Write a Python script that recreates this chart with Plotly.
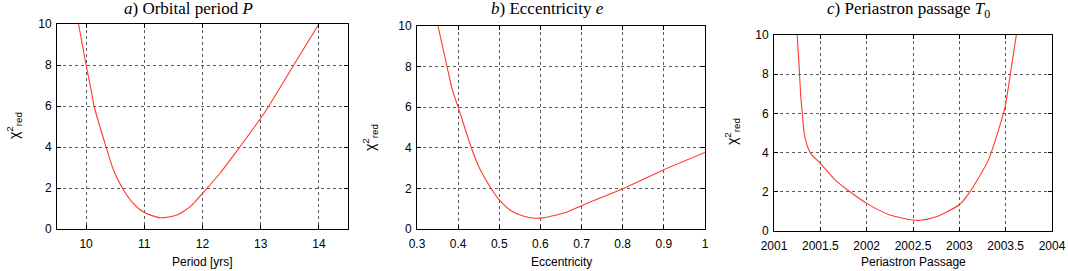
import plotly.graph_objects as go

# chi^2_red curves
period = [9.87, 10.0, 10.086, 10.137, 10.344, 10.47, 10.625, 10.81, 11.0, 11.27, 11.56, 11.79, 12.0,
          12.3, 12.64, 13.0, 13.14, 13.62, 14.0]
chi_period = [10.0, 8.0, 6.78, 6.0, 3.99, 2.88, 1.99, 1.25, 0.80, 0.55, 0.68, 1.09, 1.74,
              2.72, 4.0, 5.4, 6.0, 8.24, 10.0]

ecc = [0.351, 0.373, 0.386, 0.40, 0.432, 0.452, 0.481, 0.50, 0.526, 0.558, 0.586, 0.606, 0.639, 0.663,
       0.70, 0.80, 0.90, 1.0]
chi_ecc = [10.0, 8.0, 6.85, 6.0, 4.0, 2.99, 1.97, 1.43, 0.94, 0.64, 0.53, 0.55, 0.69, 0.82,
           1.15, 1.98, 2.92, 3.77]

t0 = [2001.25, 2001.27, 2001.287, 2001.305, 2001.326, 2001.37, 2001.405, 2001.5, 2001.65, 2001.82, 2002.0,
      2002.25, 2002.5, 2002.58, 2002.75, 2003.0, 2003.11, 2003.31, 2003.49, 2003.56, 2003.615]
chi_t0 = [10.0, 8.5, 7.0, 6.0, 5.0, 4.2, 3.9, 3.45, 2.65, 2.0, 1.41,
          0.82, 0.56, 0.55, 0.73, 1.34, 1.97, 3.59, 6.26, 8.3, 10.0]
t0_ticks = [2001, 2001.5, 2002, 2002.5, 2003, 2003.5, 2004]

W, H = 1068, 271
RED = '#ff3a2a'
GRID = '#5a5a5a'
TICKFONT = dict(family='Liberation Sans', size=12, color='black')
SERIF = dict(family='Liberation Serif', size=17, color='black')


def px_x(p):
    return p / W


def px_y(p):
    return 1 - p / H


panels = [
    # (x, y, xdom px, ydom px, x range, x ticks, title, xlabel, title pos, ylabel pos, shape)
    (period, chi_period, (57, 348), (24, 229), [9.5, 14.5], [10, 11, 12, 13, 14],
     '<i>a</i>) Orbital period <i>P</i>', 'Period [yrs]', (188, 9), (14, 126), 'spline'),
    (ecc, chi_ecc, (417, 705), (26, 229), [0.3, 1.0], [0.3, 0.4, 0.5, 0.6, 0.7, 0.8, 0.9, 1.0],
     '<i>b</i>) Eccentricity <i>e</i>', 'Eccentricity', (547, 9), (370, 138), 'spline'),
    (t0, chi_t0, (774, 1052), (35, 231), [2001, 2004], t0_ticks,
     '<i>c</i>) Periastron passage <i>T</i><sub>0</sub>', 'Periastron Passage', (908, 10), (732, 132), 'spline'),
]

fig = go.Figure()
for n, (xs, ys, xd, yd, xr, xt, title, xlabel, tpos, ypos, shape) in enumerate(panels, start=1):
    suffix = '' if n == 1 else str(n)
    fig.add_trace(go.Scatter(
        x=xs, y=ys, mode='lines',
        line=dict(color=RED, width=1.1, shape=shape, smoothing=0.6),
        xaxis='x' + suffix, yaxis='y' + suffix, showlegend=False,
    ))
    common = dict(showline=True, mirror='allticks', linecolor='black', linewidth=1,
                  ticks='inside', ticklen=4, tickcolor='black',
                  showgrid=True, gridcolor=GRID, griddash='dot', gridwidth=1,
                  zeroline=False, tickfont=TICKFONT, automargin=False)
    fig.update_layout(**{
        'xaxis' + suffix: dict(domain=[px_x(xd[0]), px_x(xd[1])], range=xr, tickvals=xt,
                               ticktext=[f'{v:g}' for v in xt], ticklabelstandoff=4,
                               anchor='y' + suffix, **common),
        'yaxis' + suffix: dict(domain=[px_y(yd[1]), px_y(yd[0])], range=[0, 10],
                               tickvals=[0, 2, 4, 6, 8, 10], ticklabelstandoff=2,
                               anchor='x' + suffix, **common),
    })
    fig.add_annotation(text=title, x=px_x(tpos[0]), y=px_y(tpos[1]), xref='paper', yref='paper',
                       showarrow=False, font=SERIF, xanchor='center', yanchor='middle')
    fig.add_annotation(text=xlabel, x=px_x((xd[0] + xd[1]) / 2), y=px_y(262), xref='paper', yref='paper',
                       showarrow=False, font=TICKFONT, xanchor='center', yanchor='middle')
    fig.add_annotation(text='\u03c7<sup>2</sup><sub>red</sub>', x=px_x(ypos[0]), y=px_y(ypos[1]),
                       xref='paper', yref='paper', textangle=-90, showarrow=False,
                       font=dict(family='Liberation Sans', size=14, color='black'),
                       xanchor='center', yanchor='middle')

fig.update_layout(
    width=W, height=H,
    margin=dict(l=0, r=0, t=0, b=0),
    paper_bgcolor='white', plot_bgcolor='white',
)

# drop the browser's default 8px body margin so the figure sits at the page origin
fig.write_html('out.html', config={'displayModeBar': False},
               post_script="document.body.style.margin='0';")
